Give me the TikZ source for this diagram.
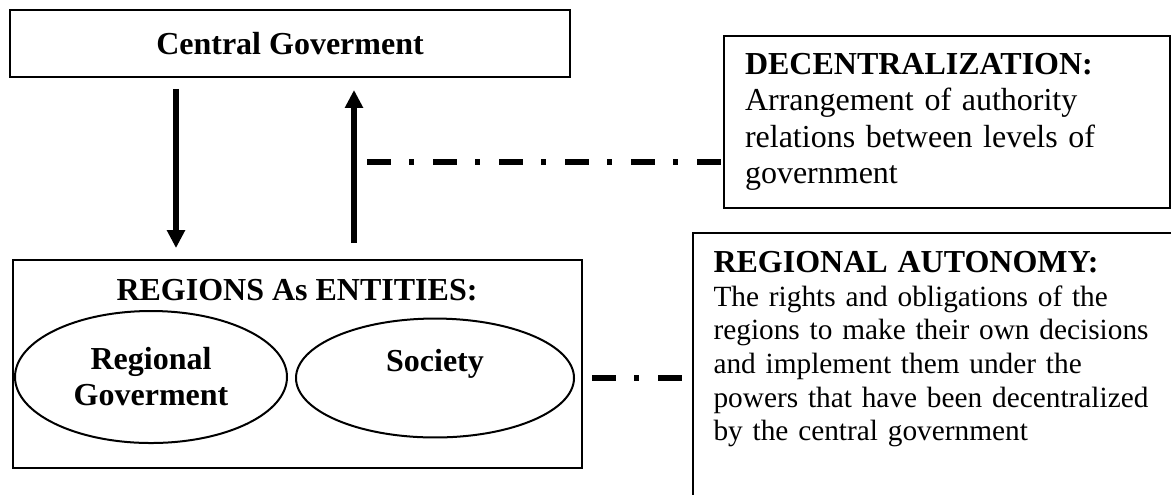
\documentclass[tikz,border=0pt]{standalone}
\usepackage{fontspec}
\setmainfont{Liberation Serif}
\usetikzlibrary{arrows.meta,shapes.geometric,positioning}
\tikzset{
    level/.style={
    rectangle,draw=black,line width=0.75pt,inner sep=0pt
    },
    entity/.style={
    ellipse,draw=black,line width=0.75pt,inner sep=0pt,align=center,
    font=\bfseries\fontsize{12}{13.5}\selectfont
    },
    flow/.style={
    line width=2.1pt,-{Triangle[length=6.75pt,width=6.5pt]}
    },
    link/.style={
    line width=2.1pt,dash pattern=on 9pt off 6.75pt on 1.9pt off 7.1pt
    },
}

\begin{document}
\begin{tikzpicture}[x=0.375pt,y=-0.375pt]
   \useasboundingbox (0,0) rectangle (1171,494);
   \clip (0,0) rectangle (1171,494);

   \node[level,minimum width=210.2pt,minimum height=25.1pt,
     font=\bfseries\fontsize{12}{13.8}\selectfont] (cg) at (290,43.5) {Central Goverment};
   \node[level,minimum width=213.2pt,minimum height=78pt] (rg) at (297.7,364) {};
   \node[anchor=base,font=\bfseries\fontsize{12}{13.8}\selectfont] (rgtitle) at (297,300) {REGIONS As ENTITIES:};
   \node[entity,minimum width=102pt,minimum height=49.5pt] (rgov) at (151,377) {Regional\\Goverment};
   \node[entity,minimum width=104.25pt,minimum height=44.6pt] (soc) at (435,378) {Society\\\mbox{}};

   \node[level,minimum width=167.25pt,minimum height=64.5pt,inner xsep=7.875pt,
     text width=151.5pt,align=left,font=\fontsize{12}{13.7}\selectfont] (dec) at (947,122)
     {\textbf{DECENTRALIZATION:}\\Arrangement of authority\\relations between levels of\\government};
   \node[level,anchor=north west,minimum width=225pt,minimum height=150pt] (aut) at (692,232) {};
   \node[anchor=north west,inner sep=0pt,text width=175pt,align=left,
     font=\fontsize{11}{12.6}\selectfont] (auttext) at ([xshift=7.875pt,yshift=-7.1pt]aut.north west)
     {{\bfseries\fontsize{12}{13.8}\selectfont REGIONAL AUTONOMY:}\\The rights and obligations of the\\regions to make their own decisions\\and implement them under the\\powers that have been decentralized\\by the central government};

   % arrows between the levels
   \coordinate (dn) at (176,0);
   \coordinate (up) at (354,0);
   \draw[flow,shorten <=4.1pt,shorten >=4.1pt] (dn |- cg.south) -- (dn |- rg.north);
   \draw[flow,shorten <=6pt,shorten >=4.5pt] (up |- rg.north) -- (up |- cg.south);

   % links to the definitions
   \coordinate (d1) at (367,162);
   \coordinate (d2) at (592,378);
   \draw[link] (d1) -- (d1 -| dec.west);
   \draw[link,shorten >=3.75pt] (d2) -- (d2 -| aut.west);
\end{tikzpicture}
\end{document}
